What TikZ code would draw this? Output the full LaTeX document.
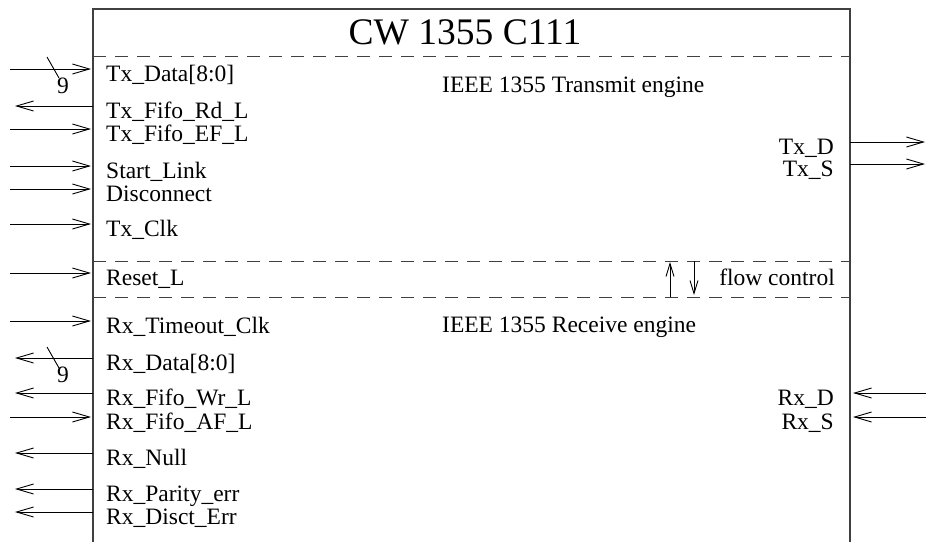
\documentclass[tikz,border=0pt]{standalone}
\usepackage{fontspec}
\setmainfont{Liberation Serif}
\usetikzlibrary{arrows.meta}
\begin{document}
\begin{tikzpicture}[x=1pt,y=-1pt,
  lbl/.style={inner sep=0pt, font=\fontsize{23.5}{26}\selectfont},
  lft/.style={lbl, anchor=base west},
  rgt/.style={lbl, anchor=base east},
  sig/.style={line width=0.9pt, -{Straight Barb[length=17pt,width=10pt,line width=0.9pt]}},
  sigsmall/.style={line width=0.9pt, -{Straight Barb[length=13pt,width=8pt,line width=0.9pt]}},
  boxline/.style={line width=1.1pt, black!75},
  sepline/.style={line width=1pt, black!75, dash pattern=on 13pt off 9pt},
  bus/.style={line width=0.9pt},
]
\useasboundingbox (0,0) rectangle (926,542);
% chip outline
\draw[boxline] (93,542) -- (93,9) -- (850,9) -- (850,542);
\draw[sepline] (93,56) -- (850,56);
\draw[sepline] (93,261) -- (850,261);
\draw[sepline] (93,297) -- (850,297);

% titles
\node[inner sep=0pt, anchor=base, font=\fontsize{37.5}{40}\selectfont] (title) at (465,44) {CW 1355 C111};
\node[lft] (tx-engine) at (442,92) {IEEE 1355 Transmit engine};
\node[lft] (rx-engine) at (442,332) {IEEE 1355 Receive engine};
\node[rgt] (flow) at (835,285) {flow control};

% left labels
\node[lft] (l-txdata) at (106,81) {Tx\_Data[8:0]};
\node[lft] (l-txrd) at (106,118) {Tx\_Fifo\_Rd\_L};
\node[lft] (l-txef) at (106,141) {Tx\_Fifo\_EF\_L};
\node[lft] (l-start) at (106,178) {Start\_Link};
\node[lft] (l-disc) at (106,201) {Disconnect};
\node[lft] (l-txclk) at (106,236) {Tx\_Clk};
\node[lft] (l-reset) at (106,285) {Reset\_L};
\node[lft] (l-rxto) at (106,333) {Rx\_Timeout\_Clk};
\node[lft] (l-rxdata) at (106,370) {Rx\_Data[8:0]};
\node[lft] (l-rxwr) at (106,405) {Rx\_Fifo\_Wr\_L};
\node[lft] (l-rxaf) at (106,429) {Rx\_Fifo\_AF\_L};
\node[lft] (l-rxnull) at (106,465) {Rx\_Null};
\node[lft] (l-rxpar) at (106,501) {Rx\_Parity\_err};
\node[lft] (l-rxdisc) at (106,524) {Rx\_Disct\_Err};

% right labels
\node[rgt] (l-txd) at (834,154) {Tx\_D};
\node[rgt] (l-txs) at (834,176) {Tx\_S};
\node[rgt] (l-rxd) at (834,405) {Rx\_D};
\node[rgt] (l-rxs) at (834,429) {Rx\_S};

% left pin coordinates
\foreach \n/\y in {txdata/69, txrd/106, txef/129, start/166, disc/189, txclk/224,
                   reset/273, rxto/321, rxdata/358, rxwr/393, rxaf/417, rxnull/453,
                   rxpar/489, rxdisc/512} {
  \coordinate (pin-\n) at (93,\y);
  \coordinate (ext-\n) at (10,\y);
  \coordinate (tip-\n) at (91,\y);
  \coordinate (otip-\n) at (15,\y);
}
% inputs
\foreach \n in {txdata, txef, start, disc, txclk, reset, rxto, rxaf}
  \draw[sig] (ext-\n) -- (tip-\n);
% outputs
\foreach \n in {txrd, rxdata, rxwr, rxnull, rxpar, rxdisc}
  \draw[sig] (pin-\n) -- (otip-\n);

% bus width marks
\draw[bus] (47,57) -- (59,78);
\node[lbl, anchor=base west] (w-tx) at (57,93) {9};
\draw[bus] (47,347) -- (59,368);
\node[lbl, anchor=base west] (w-rx) at (57,382) {9};

% right pins
\coordinate (pin-txd) at (850,142); \coordinate (ext-txd) at (925,142);
\coordinate (pin-txs) at (850,164); \coordinate (ext-txs) at (925,164);
\coordinate (ext-rxd) at (926,393); \coordinate (tip-rxd) at (853,393);
\coordinate (ext-rxs) at (926,417); \coordinate (tip-rxs) at (853,417);
\draw[sig] (pin-txd) -- (ext-txd);
\draw[sig] (pin-txs) -- (ext-txs);
\draw[sig] (ext-rxd) -- (tip-rxd);
\draw[sig] (ext-rxs) -- (tip-rxs);

% flow control arrows
\coordinate (fu-a) at (670,297); \coordinate (fu-b) at (670,262);
\coordinate (fd-a) at (694,261); \coordinate (fd-b) at (694,295);
\draw[sigsmall] (fu-a) -- (fu-b);
\draw[sigsmall] (fd-a) -- (fd-b);
\end{tikzpicture}
\end{document}
